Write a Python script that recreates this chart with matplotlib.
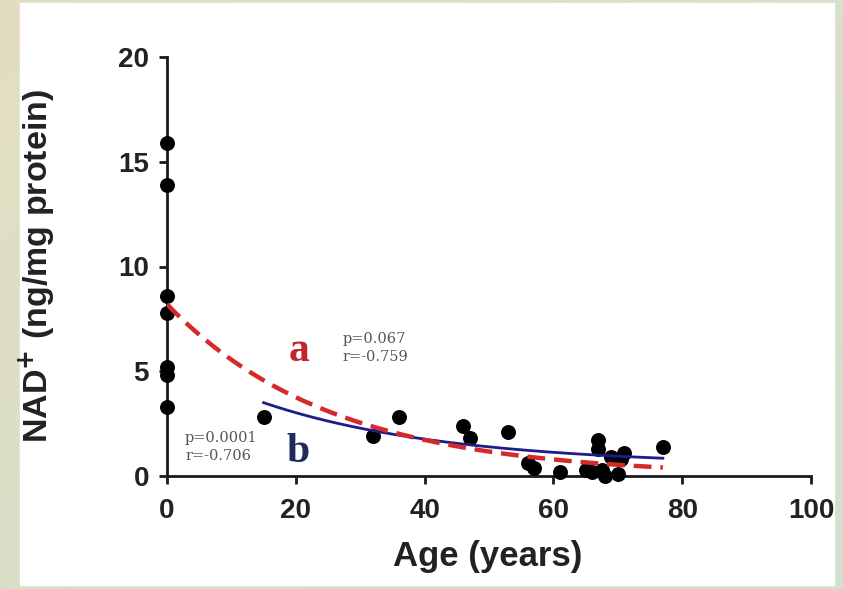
import numpy as np
import matplotlib.pyplot as plt
from matplotlib.patches import Rectangle

# NAD+ values measured at age 0 (newborn)
age0_vals = [15.9, 13.9, 8.6, 7.8, 5.2, 4.8, 3.3]

# adult samples
ages = [15, 32, 36, 46, 47, 53, 56, 57, 61, 65, 66, 67, 67, 67.5, 68, 69, 70, 70.5, 71, 77]
nad = [2.8, 1.9, 2.8, 2.4, 1.8, 2.1, 0.6, 0.4, 0.2, 0.3, 0.2, 1.7, 1.3, 0.3, 0.0, 0.9, 0.1, 0.8, 1.1, 1.4]

# fitted curves
# a: y = A * exp(-k x) over all samples
fit_a = dict(A=8.2, k=0.039, x0=0, x1=77)
# b: y = c + A * exp(-k (x - 15)) over samples older than 0
fit_b = dict(c=0.5, A=3.0, k=0.0347, x0=15, x1=77)

fig = plt.figure(figsize=(8.43, 5.89), dpi=100)

# background gradient + white panel
bg = fig.add_axes([0, 0, 1, 1], zorder=-10)
gx, gy = np.meshgrid(np.linspace(0, 1, 200), np.linspace(0, 1, 200))
c1 = np.array([0.89, 0.87, 0.76])
c2 = np.array([0.82, 0.88, 0.82])
w = (0.6 * gx + 0.4 * gy)[..., None]
bg.imshow(c1 * (1 - w) + c2 * w, extent=[0, 1, 0, 1], aspect='auto')
bg.add_patch(Rectangle((20 / 843, 4 / 589), 814 / 843, 582 / 589, color='white'))
bg.set_xlim(0, 1)
bg.set_ylim(0, 1)
bg.axis('off')

ax = fig.add_axes([167 / 843, 113 / 589, 644 / 843, 419 / 589])
ax.patch.set_alpha(0)

xa = np.linspace(fit_a['x0'], fit_a['x1'], 200)
ya = fit_a['A'] * np.exp(-fit_a['k'] * xa)
xb = np.linspace(fit_b['x0'], fit_b['x1'], 200)
yb = fit_b['c'] + fit_b['A'] * np.exp(-fit_b['k'] * (xb - fit_b['x0']))

ax.scatter([0] * len(age0_vals), age0_vals, s=95, color='black', zorder=3, clip_on=False)
ax.scatter(ages, nad, s=95, color='black', zorder=3, clip_on=False)
ax.plot(xb, yb, color='#1c1c8a', lw=2, zorder=4)
ax.plot(xa, ya, color='#d42a2a', lw=3.2, dashes=(4, 2), zorder=5)

ax.set_xlim(0, 100)
ax.set_ylim(0, 20)
ax.set_xticks([0, 20, 40, 60, 80, 100])
ax.set_yticks([0, 5, 10, 15, 20])
for s in ['top', 'right']:
    ax.spines[s].set_visible(False)
for s in ['left', 'bottom']:
    ax.spines[s].set_linewidth(2)
    ax.spines[s].set_color('#1a1a1a')
ax.tick_params(length=6, width=2, color='#1a1a1a', labelsize=20, labelcolor='#222222')
ax.tick_params(axis='x', pad=10)
ax.tick_params(axis='y', pad=7)
for lbl in ax.get_xticklabels() + ax.get_yticklabels():
    lbl.set_fontweight('bold')
    lbl.set_family('Liberation Sans')

ax.set_xlabel('Age (years)', fontsize=25, fontweight='bold', family='Liberation Sans', color='#222222')
ax.set_ylabel('NAD$^{\\mathbf{+}}$ (ng/mg protein)', fontsize=24.5, fontweight='bold', family='Liberation Sans',
              color='#222222')
ax.xaxis.set_label_coords(0.498, -0.153)
ax.yaxis.set_label_coords(-0.169, 0.5)

ax.text(20.5, 5.5, 'a', color='#c0272d', fontsize=30, fontweight='bold', family='Liberation Serif', ha='center')
ax.text(27.3, 6.54, 'p=0.067', color='#555555', fontsize=10.5, family='DejaVu Serif', va='center')
ax.text(27.3, 5.68, 'r=-0.759', color='#555555', fontsize=10.5, family='DejaVu Serif', va='center')
ax.text(20.3, 0.67, 'b', color='#1d2a5a', fontsize=30, fontweight='bold', family='Liberation Serif', ha='center')
ax.text(2.8, 1.81, 'p=0.0001', color='#555555', fontsize=10.5, family='DejaVu Serif', va='center')
ax.text(2.8, 0.95, 'r=-0.706', color='#555555', fontsize=10.5, family='DejaVu Serif', va='center')

fig.savefig('out.png', dpi=100)
